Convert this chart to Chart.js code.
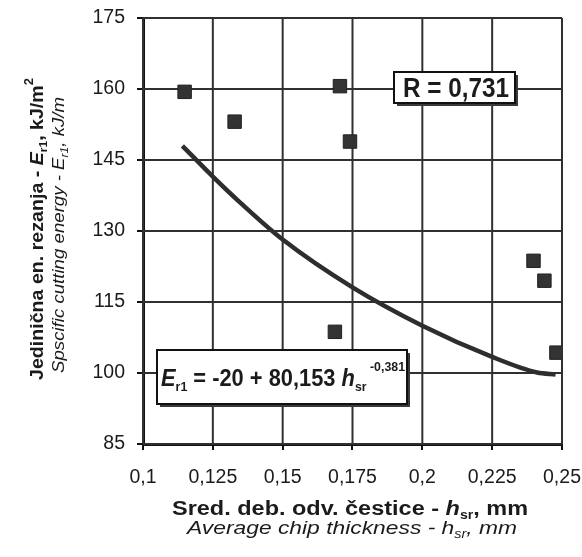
<!DOCTYPE html>
<html>
<head>
<meta charset="utf-8">
<script src="https://cdn.jsdelivr.net/npm/chart.js@4.4.0/dist/chart.umd.min.js"></script>
<style>
  body { margin: 0; background: #fff; }
  #wrap { width: 582px; height: 557px; }
</style>
</head>
<body>
<div id="wrap"><canvas id="grafico" width="582" height="557"></canvas></div>
<script>
// measured points (h_sr, E_r1)
const hMeasured = [0.1149, 0.1328, 0.1687, 0.1705, 0.1741, 0.2398, 0.2437, 0.2480];
const eMeasured = [159.4, 153.1, 108.7, 160.6, 148.9, 123.7, 119.5, 104.3];

// regression curve as drawn in the picture
const hCurve = [0.1141, 0.125, 0.135, 0.15, 0.175, 0.2, 0.225, 0.2411, 0.2477];
const eCurve = [148.0, 141.5, 135.9, 128.2, 118.1, 110.0, 103.4, 100.1, 99.7];

const xTickLabels = ['0,1', '0,125', '0,15', '0,175', '0,2', '0,225', '0,25'];
const yTickLabels = ['85', '100', '115', '130', '145', '160', '175'];

const INK = '#1b1b1b';
const FONT = "'Liberation Sans', Arial, sans-serif";

// grid lines as plain line datasets, one per tick label
const xVals = xTickLabels.map(s => parseFloat(s.replace(',', '.')));
const yVals = yTickLabels.map(Number);
const gridStyle = {
  showLine: true,
  pointRadius: 0,
  pointHoverRadius: 0,
  borderColor: '#303030',
  borderWidth: 2,
  order: 10,
  clip: 3
};
const gridSets = [
  ...xVals.map(v => ({ ...gridStyle, data: [{ x: v, y: yVals[0] }, { x: v, y: yVals[yVals.length - 1] }] })),
  ...yVals.map(v => ({ ...gridStyle, data: [{ x: xVals[0], y: v }, { x: xVals[xVals.length - 1], y: v }] }))
];

// draws a line of mixed text pieces, squeezed to a given width
const drawRich = (ctx, parts, cx, baseY, width) => {
  let natural = 0;
  parts.forEach(p => {
    ctx.font = p.f + ' ' + p.s + 'px ' + FONT;
    p.w = ctx.measureText(p.t).width;
    natural += p.w;
  });
  const k = width ? width / natural : 1;
  ctx.save();
  ctx.translate(cx - natural * k / 2, baseY);
  ctx.scale(k, 1);
  ctx.fillStyle = INK;
  ctx.textBaseline = 'alphabetic';
  ctx.textAlign = 'left';
  let x = 0;
  parts.forEach(p => {
    ctx.font = p.f + ' ' + p.s + 'px ' + FONT;
    ctx.fillText(p.t, x, p.dy || 0);
    x += p.w;
  });
  ctx.restore();
};

const framedBox = (ctx, x, y, w, h) => {
  ctx.save();
  ctx.fillStyle = '#3a3a3a';
  ctx.fillRect(x + 3, y + 3, w, h);
  ctx.fillStyle = '#fff';
  ctx.fillRect(x, y, w, h);
  ctx.strokeStyle = '#111';
  ctx.lineWidth = 2;
  ctx.strokeRect(x, y, w, h);
  ctx.restore();
};

const textos = {
  id: 'textos',
  afterDraw(chart) {
    const ctx = chart.ctx;

    // y title, two rotated lines
    ctx.save();
    ctx.translate(36, 229);
    ctx.rotate(-Math.PI / 2);
    drawRich(ctx, [
      { t: 'Jedinična en. rezanja - ', f: 'bold', s: 18 },
      { t: 'E', f: 'italic bold', s: 18 },
      { t: 'r1', f: 'bold', s: 11, dy: 4 },
      { t: ', kJ/m', f: 'bold', s: 18 },
      { t: '2', f: 'bold', s: 12, dy: -10 }
    ], 0, 7, 302);
    ctx.restore();

    ctx.save();
    ctx.translate(58, 235);
    ctx.rotate(-Math.PI / 2);
    drawRich(ctx, [
      { t: 'Spscific cutting energy - ', f: 'italic', s: 17 },
      { t: 'E', f: 'italic', s: 17 },
      { t: 'r1', f: 'italic', s: 11, dy: 4 },
      { t: ', kJ/m', f: 'italic', s: 17 }
    ], 0, 6, 276);
    ctx.restore();

    // x title
    drawRich(ctx, [
      { t: 'Sred. deb. odv. čestice - ', f: 'bold', s: 20 },
      { t: 'h', f: 'italic bold', s: 20 },
      { t: 'sr', f: 'bold', s: 12, dy: 4 },
      { t: ', mm', f: 'bold', s: 20 }
    ], 350, 515, 356);
    drawRich(ctx, [
      { t: 'Average chip thickness - ', f: 'italic', s: 19 },
      { t: 'h', f: 'italic', s: 19 },
      { t: 'sr', f: 'italic', s: 12, dy: 4 },
      { t: ', mm', f: 'italic', s: 19 }
    ], 352, 534, 330);

    // R box
    framedBox(ctx, 394, 72, 121, 31);
    drawRich(ctx, [{ t: 'R = 0,731', f: 'bold', s: 27 }], 456, 97, 106);

    // equation box
    framedBox(ctx, 157, 350, 250, 54);
    drawRich(ctx, [
      { t: 'E', f: 'italic bold', s: 23 },
      { t: 'r1', f: 'bold', s: 13, dy: 5 },
      { t: ' = -20 + 80,153 ', f: 'bold', s: 23 },
      { t: 'h', f: 'italic bold', s: 23 },
      { t: 'sr', f: 'bold', s: 13, dy: 5 },
      { t: ' -0,381', f: 'bold', s: 13, dy: -15 }
    ], 283, 386, 244);
  }
};

const ctx = document.getElementById('grafico').getContext('2d');

new Chart(ctx, {
  type: 'scatter',
  data: {
    datasets: [
      {
        label: 'Mjerenja',
        data: hMeasured.map((h, i) => ({ x: h, y: eMeasured[i] })),
        pointStyle: 'rect',
        pointRadius: 9.5,
        pointHoverRadius: 9.5,
        backgroundColor: '#333',
        borderColor: '#222',
        borderWidth: 1,
        order: 0
      },
      {
        label: 'Regresija',
        data: hCurve.map((h, i) => ({ x: h, y: eCurve[i] })),
        showLine: true,
        pointRadius: 0,
        borderColor: '#2e2e2e',
        borderWidth: 4.5,
        cubicInterpolationMode: 'monotone',
        fill: false,
        order: 1
      },
      ...gridSets
    ]
  },
  options: {
    responsive: false,
    animation: false,
    layout: { padding: { top: 18, right: 20, left: 0, bottom: 0 } },
    plugins: {
      legend: { display: false },
      tooltip: { enabled: false }
    },
    scales: {
      x: {
        type: 'linear',
        min: 0.1,
        max: 0.25,
        ticks: {
          stepSize: 0.025,
          color: INK,
          font: { family: FONT, size: 19.5 },
          padding: 16,
          maxRotation: 0,
          callback: (v, i) => xTickLabels[i]
        },
        grid: { drawOnChartArea: false, drawTicks: true, tickLength: 6, color: '#111', lineWidth: 2 },
        border: { color: '#111', width: 3 },
        afterFit: s => { s.height = 113; s.paddingLeft = 0; s.paddingRight = 0; }
      },
      y: {
        min: 85,
        max: 175,
        ticks: {
          stepSize: 15,
          color: INK,
          font: { family: FONT, size: 19.5 },
          padding: 12,
          callback: (v, i) => yTickLabels[i]
        },
        grid: { drawOnChartArea: false, drawTicks: true, tickLength: 6, color: '#111', lineWidth: 2 },
        border: { color: '#111', width: 3 },
        afterFit: s => { s.width = 143; s.paddingTop = 0; s.paddingBottom = 0; }
      }
    }
  },
  plugins: [textos]
});
</script>
</body>
</html>
